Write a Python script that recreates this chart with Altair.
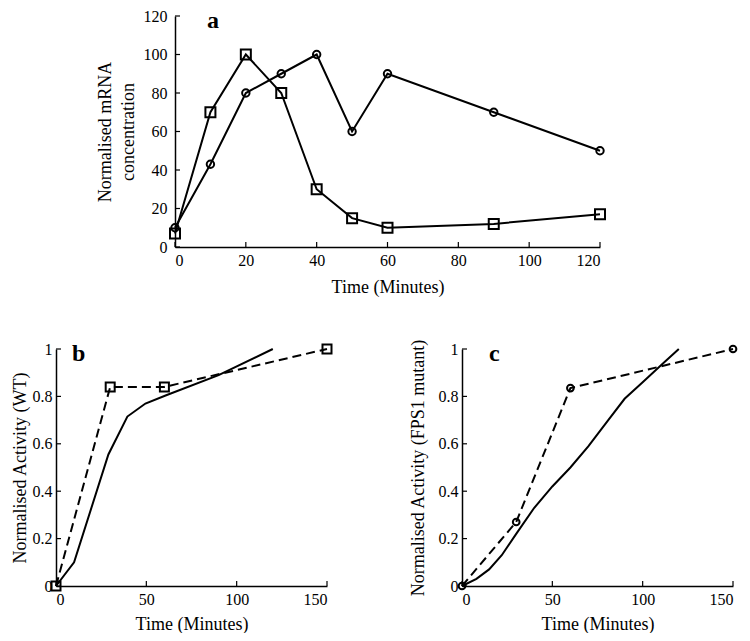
import altair as alt
import pandas as pd

SERIF = "Liberation Serif"

# ---- Panel a: normalised mRNA concentration ----
time_a = [0, 10, 20, 30, 40, 50, 60, 90, 120]
circle_a = [10, 43, 80, 90, 100, 60, 90, 70, 50]
square_a = [7, 70, 100, 80, 30, 15, 10, 12, 17]

# ---- Panel b: WT activity ----
time_b_exp = [0, 30, 60, 150]
act_b_exp = [0, 0.84, 0.84, 1.0]
time_b_model = [0, 10, 29, 39.5, 49.5, 61, 90, 120]
act_b_model = [0, 0.10, 0.555, 0.715, 0.77, 0.805, 0.89, 1.0]

# ---- Panel c: FPS1 mutant activity ----
time_c_exp = [0, 30, 60, 150]
act_c_exp = [0, 0.27, 0.835, 1.0]
time_c_model = [0, 8, 15, 22, 30, 40, 50, 60, 70, 80, 90, 100, 110, 120]
act_c_model = [0, 0.03, 0.07, 0.13, 0.22, 0.33, 0.42, 0.50, 0.59, 0.69, 0.79, 0.86, 0.93, 1.0]

xticks_a = [0, 20, 40, 60, 80, 100, 120]
yticks_a = [0, 20, 40, 60, 80, 100, 120]
xticks_bc = [0, 50, 100, 150]
yticks_bc = [0, 0.2, 0.4, 0.6, 0.8, 1.0]

TICK = 5


def make_panel(series, xdom, ydom, xticks, yticks, w, h, ytitle, letter,
               letter_dx, ytitle_pad, ylab_pad, fmt, xtitle_pad):
    xs = alt.Scale(domain=xdom, nice=False, zero=False)
    ys = alt.Scale(domain=ydom, nice=False, zero=False)
    xaxis = alt.Axis(values=xticks, title="Time (Minutes)", ticks=False,
                     labelPadding=5, titlePadding=xtitle_pad, grid=False,
                     format="d")
    yaxis = alt.Axis(values=yticks, title=ytitle, ticks=False,
                     labelPadding=ylab_pad, titlePadding=ytitle_pad,
                     grid=False, format=fmt, titleLineHeight=23)
    layers = []
    for (t, v, dash, shape, size) in series:
        df = pd.DataFrame({"t": t, "v": v})
        enc = dict(x=alt.X("t:Q", scale=xs, axis=xaxis),
                   y=alt.Y("v:Q", scale=ys, axis=yaxis))
        line_kw = dict(color="black", strokeWidth=2)
        if dash:
            line_kw["strokeDash"] = [9, 5]
        layers.append(alt.Chart(df).mark_line(**line_kw).encode(**enc))
        if shape:
            layers.append(alt.Chart(df).mark_point(
                shape=shape, filled=False, size=size, strokeWidth=2,
                color="black", opacity=1).encode(**enc))
    # inward tick marks
    ydf = pd.DataFrame({"v": yticks})
    layers.append(alt.Chart(ydf).mark_rule(color="black", strokeWidth=1.2).encode(
        y=alt.Y("v:Q", scale=ys, axis=yaxis),
        x=alt.value(0), x2=alt.value(TICK)))
    xdf = pd.DataFrame({"t": xticks})
    layers.append(alt.Chart(xdf).mark_rule(color="black", strokeWidth=1.2).encode(
        x=alt.X("t:Q", scale=xs, axis=xaxis),
        y=alt.value(h), y2=alt.value(h - TICK)))
    # panel letter
    ldf = pd.DataFrame({"letter": [letter]})
    layers.append(alt.Chart(ldf).mark_text(
        align="left", baseline="alphabetic", font=SERIF, fontSize=24,
        fontWeight="bold", color="black").encode(
        text="letter:N", x=alt.value(letter_dx), y=alt.value(12)))
    return alt.layer(*layers).properties(width=w, height=h)


pa = make_panel(
    [(time_a, circle_a, False, "circle", 55),
     (time_a, square_a, False, "square", 100)],
    [0, 120], [0, 120], xticks_a, yticks_a, 425, 231,
    ["Normalised mRNA", "concentration"], "a", 32, 6, 8, "d", 10)

pb = make_panel(
    [(time_b_model, act_b_model, False, None, 0),
     (time_b_exp, act_b_exp, True, "square", 81)],
    [0, 150], [0, 1], xticks_bc, yticks_bc, 271, 237,
    "Normalised Activity (WT)", "b", 16, 3, 4, "~g", 8)

pc = make_panel(
    [(time_c_model, act_c_model, False, None, 0),
     (time_c_exp, act_c_exp, True, "circle", 45)],
    [0, 150], [0, 1], xticks_bc, yticks_bc, 271, 237,
    "Normalised Activity (FPS1 mutant)", "c", 27, 11, 4, "~g", 8)

spacer = alt.Chart(pd.DataFrame({"s": [0]})).mark_point(opacity=0).encode(
    x=alt.X("s:Q", axis=None), y=alt.Y("s:Q", axis=None)
).properties(width=40, height=20)

top = alt.hconcat(spacer, pa, spacing=0)
bottom = alt.hconcat(pb, pc, spacing=72)

chart = alt.vconcat(top, bottom, spacing=42).properties(
    padding={"left": 3, "top": 0, "right": 0, "bottom": 0},
    background="white"
).configure_view(stroke=None).configure_axis(
    domainColor="black", domainWidth=1.5,
    labelFont=SERIF, labelFontSize=16, labelColor="black",
    titleFont=SERIF, titleFontSize=18, titleFontWeight="normal",
    titleColor="black"
)

chart.save("out.html", embed_options={"renderer": "svg", "actions": False})
